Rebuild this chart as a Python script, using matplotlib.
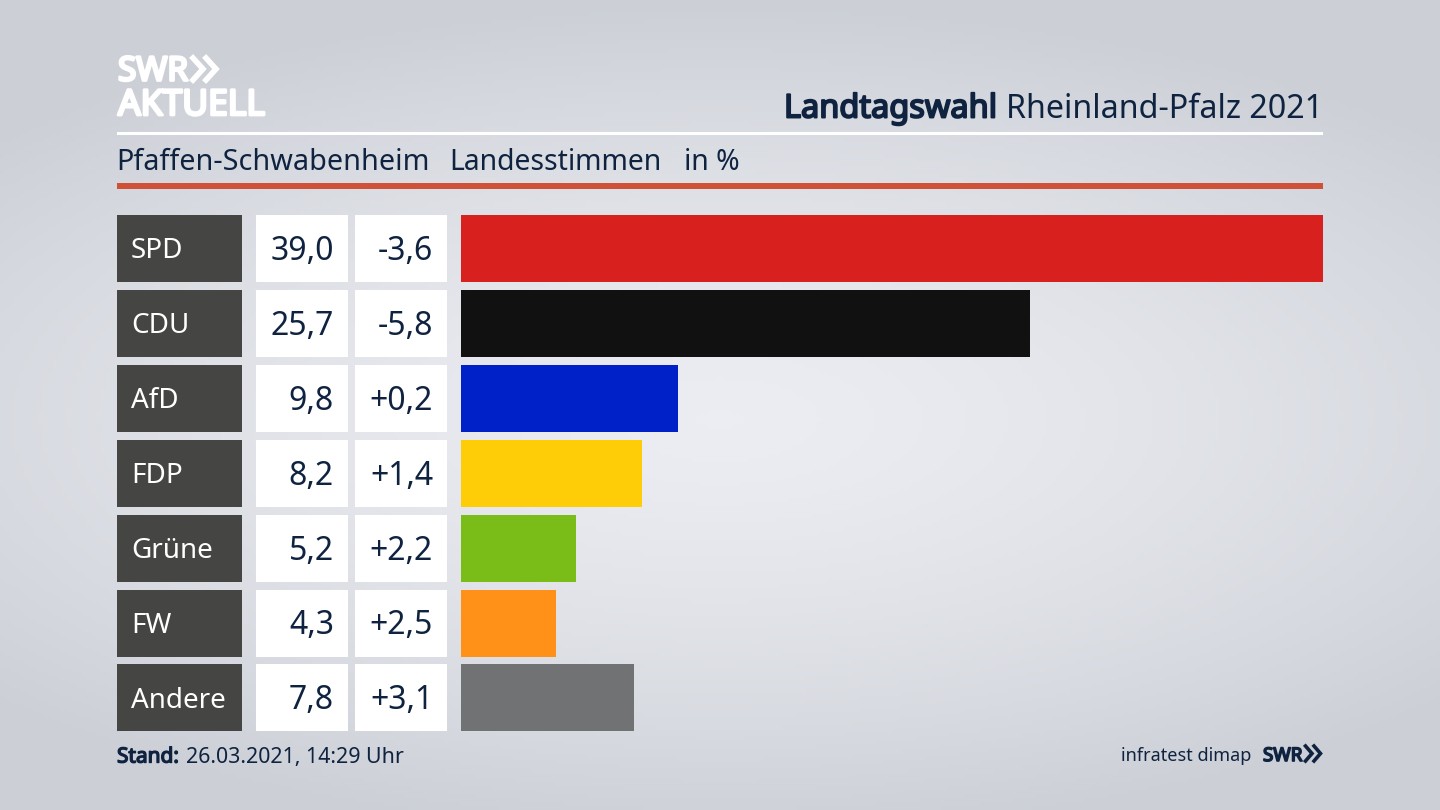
import numpy as np
import matplotlib
matplotlib.use('Agg')
import matplotlib.pyplot as plt
import matplotlib.patheffects as pe
from matplotlib.patches import Rectangle

plt.rcParams['font.family'] = ['Noto Sans', 'DejaVu Sans']

parties = ['SPD', 'CDU', 'AfD', 'FDP', 'Grüne', 'FW', 'Andere']
votes = [39.0, 25.7, 9.8, 8.2, 5.2, 4.3, 7.8]
changes = [-3.6, -5.8, 0.2, 1.4, 2.2, 2.5, 3.1]
colors = ['#d8201f', '#111111', '#0020c8', '#ffcc08', '#7abd18', '#ff9118', '#717274']

NAVY = '#0f2340'
ROW_TOP = 215
ROW_STEP = 74.9
ROW_H = 67


def de_num(v, sign=False):
    s = f'{v:+.1f}' if sign else f'{v:.1f}'
    return s.replace('.', ',')


# noto bold ist hier nicht da, also fett per kontur
def bold(color, w=1.0):
    return [pe.withStroke(linewidth=w, foreground=color)]


fig = plt.figure(figsize=(14.4, 8.1), dpi=100)

# hintergrund + alles was nicht balken ist, in pixelkoordinaten
bg = fig.add_axes([0, 0, 1, 1])
bg.set_xlim(0, 1440)
bg.set_ylim(810, 0)
bg.axis('off')

yy, xx = np.mgrid[0:810:200j, 0:1440:300j]
dist = np.sqrt(((xx - 720) / 1000) ** 2 + ((yy - 420) / 420) ** 2)
shade = np.clip(dist, 0, 1) ** 1.4
c1 = np.array([0.925, 0.93, 0.95])
c2 = np.array([0.80, 0.815, 0.84])
img = c1[None, None, :] + (c2 - c1)[None, None, :] * shade[:, :, None]
bg.imshow(img, extent=(0, 1440, 810, 0), aspect='auto', zorder=0)

# kopf
bg.add_patch(Rectangle((117, 131.5), 1206, 3, color='white', lw=0))
bg.add_patch(Rectangle((117, 183), 1206, 6, color='#cf5238', lw=0))
bg.text(118, 72, 'SWR', color='white', fontsize=24, va='center', ha='left', path_effects=bold('white', 2.0))
bg.text(118, 106, 'AKTUELL', color='white', fontsize=25.5, va='center', ha='left', path_effects=bold('white', 2.0))
for x0 in (193, 206):
    bg.plot([x0, x0 + 10, x0], [58, 69, 80], color='white', lw=4, solid_joinstyle='miter')

bg.text(1323, 109, 'Rheinland-Pfalz 2021', color=NAVY, fontsize=23.2, va='center', ha='right')
bg.text(997, 109, 'Landtagswahl', color=NAVY, fontsize=23.4, va='center', ha='right', path_effects=bold(NAVY, 1.4))
bg.text(116, 163, 'Pfaffen-Schwabenheim', color=NAVY, fontsize=20.7, va='center', ha='left')
bg.text(449, 163, 'Landesstimmen', color=NAVY, fontsize=20.4, va='center', ha='left')
bg.text(684, 163, 'in %', color=NAVY, fontsize=20.4, va='center', ha='left')

# tabelle links
for i, p in enumerate(parties):
    top = ROW_TOP + i * ROW_STEP
    mid = top + ROW_H / 2 + 3
    bg.add_patch(Rectangle((117, top), 124.5, ROW_H, color='#454543', lw=0))
    bg.add_patch(Rectangle((256, top), 92, ROW_H, color='white', lw=0))
    bg.add_patch(Rectangle((355, top), 92, ROW_H, color='white', lw=0))
    bg.text(131, mid, p, color='white', fontsize=20, va='center', ha='left')
    bg.text(334, mid, de_num(votes[i]), color=NAVY, fontsize=23, va='center', ha='right')
    bg.text(433, mid, de_num(changes[i], True), color=NAVY, fontsize=23, va='center', ha='right')

# balken
ax = fig.add_axes([461 / 1440, 1 - 731.4 / 810, 862 / 1440, 516.4 / 810])
ax.patch.set_alpha(0)
ax.barh(range(len(parties)), votes, height=ROW_H / ROW_STEP, color=colors)
ax.set_xlim(0, 38.95)
ax.set_ylim(6 + 0.447, -0.447)
ax.axis('off')

# fuss
bg.text(117, 757, 'Stand:', color=NAVY, fontsize=15, va='center', ha='left', path_effects=bold(NAVY, 1.0))
bg.text(186, 757, '26.03.2021, 14:29 Uhr', color=NAVY, fontsize=15.4, va='center', ha='left')
bg.text(1251, 756, 'infratest dimap', color=NAVY, fontsize=13, va='center', ha='right')
bg.text(1263, 756, 'SWR', color=NAVY, fontsize=13.5, va='center', ha='left', path_effects=bold(NAVY, 1.2))
for x0 in (1305.5, 1314):
    bg.plot([x0, x0 + 6.5, x0], [746, 753.5, 761], color=NAVY, lw=2.6, solid_joinstyle='miter')

fig.savefig('out.png', dpi=100)
